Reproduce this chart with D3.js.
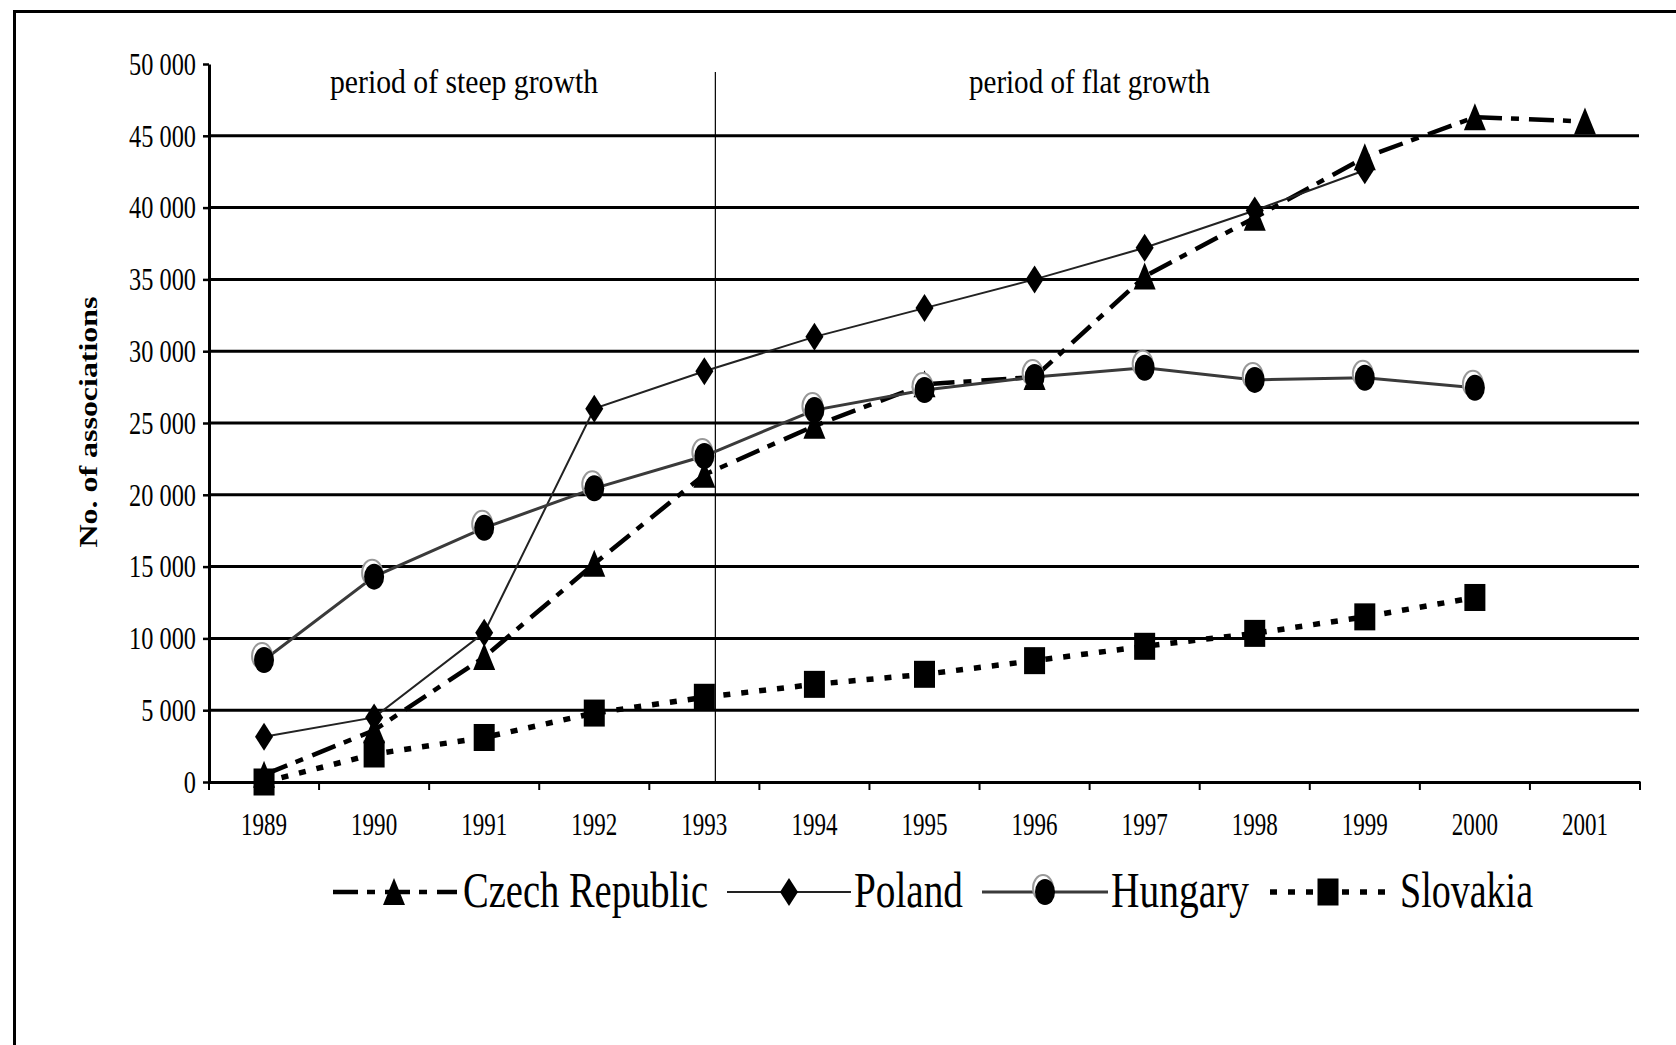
<!DOCTYPE html>
<html>
<head>
<meta charset="utf-8">
<script src="https://cdn.jsdelivr.net/npm/d3@7"></script>
<style>
  body { margin: 0; background: #fff; }
  text { font-family: "Liberation Serif", "Times New Roman", serif; fill: #000; }
</style>
</head>
<body>
<div id="wrapper"></div>
<script>
// data
const years = [1989, 1990, 1991, 1992, 1993, 1994, 1995, 1996, 1997, 1998, 1999, 2000, 2001];
const czech = [500, 3600, 8700, 15200, 21400, 24800, 27700, 28200, 35200, 39300, 43500, 46300, 46000];
const poland = [3150, 4500, 10400, 26000, 28600, 31000, 33000, 35000, 37200, 39800, 42600, null, null];
const hungary = [8500, 14300, 17700, 20450, 22700, 25900, 27300, 28200, 28850, 28000, 28150, 27450, null];
const slovakia = [0, 1950, 3100, 4800, 5900, 6800, 7500, 8450, 9450, 10350, 11500, 12850, null];
const yTicks = [0, 5000, 10000, 15000, 20000, 25000, 30000, 35000, 40000, 45000, 50000];
const seriesNames = ['Czech Republic', 'Poland', 'Hungary', 'Slovakia'];
const periodLabels = ['period of steep growth', 'period of flat growth'];
const yTitle = 'No. of associations';

const W = 1676, H = 1045;
const svg = d3.select('#wrapper')
    .append('svg')
    .attr('width', W)
    .attr('height', H);

// frame (only top and left edges show)
svg.append('line').attr('x1', 13).attr('x2', W).attr('y1', 11.5).attr('y2', 11.5)
    .attr('stroke', '#000').attr('stroke-width', 3);
svg.append('line').attr('x1', 14.5).attr('x2', 14.5).attr('y1', 10).attr('y2', H)
    .attr('stroke', '#000').attr('stroke-width', 3);

const x = d3.scaleBand().domain(years).range([209, 1640]);
const y = d3.scaleLinear().domain([0, 50000]).range([782, 64]);
const cx = d => x(d) + x.bandwidth() / 2;

const fmt = d3.formatLocale({decimal: '.', thousands: ' ', grouping: [3], currency: ['', '']}).format(',');

// squeeze text horizontally, like the stretched original
function squeeze(sel, k) {
    sel.each(function () {
        const len = this.getComputedTextLength();
        d3.select(this).attr('textLength', len * k).attr('lengthAdjust', 'spacingAndGlyphs');
    });
}

// gridlines
svg.append('g')
    .selectAll('line')
    .data(yTicks.filter(d => d > 0 && d < 50000))
    .enter()
    .append('line')
    .attr('x1', 209).attr('x2', 1639)
    .attr('y1', d => y(d)).attr('y2', d => y(d))
    .attr('stroke', '#000').attr('stroke-width', 3);

// y axis
const gy = svg.append('g')
    .attr('transform', 'translate(209,0)')
    .call(d3.axisLeft(y).tickValues(yTicks).tickFormat(fmt).tickSize(6).tickSizeOuter(0).tickPadding(7));
gy.select('.domain').attr('stroke-width', 3);
gy.selectAll('.tick line').attr('stroke-width', 2.5);
gy.selectAll('.tick text')
    .style('font-family', '"Liberation Serif", serif')
    .attr('font-size', 32)
    .call(squeeze, 0.76);

// x axis: labels at centres, ticks at band edges
const gx = svg.append('g')
    .attr('transform', 'translate(0,782)')
    .call(d3.axisBottom(x).tickSize(0).tickSizeOuter(0));
gx.select('.domain').attr('stroke-width', 3);
gx.selectAll('.tick text')
    .style('font-family', '"Liberation Serif", serif')
    .attr('font-size', 32)
    .attr('y', 53).attr('dy', 0)
    .call(squeeze, 0.72);
gx.selectAll('line.edge')
    .data(years.map(d => x(d)).concat([x.range()[1]]))
    .enter()
    .append('line')
    .attr('class', 'edge')
    .attr('x1', d => d).attr('x2', d => d)
    .attr('y1', 0).attr('y2', 8)
    .attr('stroke', '#000').attr('stroke-width', 2);

// period separator
const sepX = x(1993) + x.bandwidth() * 0.6;
svg.append('line')
    .attr('x1', sepX).attr('x2', sepX)
    .attr('y1', 72).attr('y2', 782)
    .attr('stroke', '#000').attr('stroke-width', 1.2);

svg.append('text').attr('x', 330).attr('y', 93).attr('font-size', 33)
    .attr('textLength', 268).attr('lengthAdjust', 'spacingAndGlyphs')
    .text(periodLabels[0]);
svg.append('text').attr('x', 969).attr('y', 93).attr('font-size', 33)
    .attr('textLength', 241).attr('lengthAdjust', 'spacingAndGlyphs')
    .text(periodLabels[1]);

// y title
svg.append('text')
    .attr('transform', 'translate(97,422) rotate(-90)')
    .attr('text-anchor', 'middle')
    .attr('font-size', 26)
    .attr('font-weight', 'bold')
    .attr('textLength', 251).attr('lengthAdjust', 'spacingAndGlyphs')
    .text(yTitle);

// series styles
const styles = [
    {values: czech, stroke: '#000', width: 4.5, dash: '25,9,8,10', marker: 'tri'},
    {values: poland, stroke: '#222', width: 2, dash: null, marker: 'dia'},
    {values: hungary, stroke: '#3a3a3a', width: 3, dash: null, marker: 'circ'},
    {values: slovakia, stroke: '#000', width: 5.5, dash: '7,11', marker: 'sq'}
];

function drawMarker(g, type, px, py) {
    if (type === 'tri') {
        g.append('path')
            .attr('d', `M${px},${py - 14} L${px + 11},${py + 13} L${px - 11},${py + 13} Z`)
            .attr('fill', '#000');
    } else if (type === 'dia') {
        g.append('path')
            .attr('d', `M${px},${py - 14} L${px + 9},${py} L${px},${py + 14} L${px - 9},${py} Z`)
            .attr('fill', '#000');
    } else if (type === 'circ') {
        g.append('ellipse')
            .attr('cx', px - 2).attr('cy', py - 4).attr('rx', 10).attr('ry', 13)
            .attr('fill', '#fff').attr('stroke', '#999').attr('stroke-width', 2);
        g.append('ellipse')
            .attr('cx', px).attr('cy', py).attr('rx', 10).attr('ry', 13)
            .attr('fill', '#000');
    } else {
        g.append('rect')
            .attr('x', px - 10.5).attr('y', py - 13.5)
            .attr('width', 21).attr('height', 27)
            .attr('fill', '#000');
    }
}

const line = d3.line()
    .defined(d => d.v != null)
    .x(d => cx(d.year))
    .y(d => y(d.v));

styles.forEach(function (s) {
    const pts = years.map((yr, i) => ({year: yr, v: s.values[i]}));
    const g = svg.append('g');
    g.append('path')
        .attr('d', line(pts))
        .attr('fill', 'none')
        .attr('stroke', s.stroke)
        .attr('stroke-width', s.width)
        .attr('stroke-dasharray', s.dash);
    pts.filter(d => d.v != null).forEach(function (d) {
        drawMarker(g, s.marker, cx(d.year), y(d.v));
    });
});

// legend
const legendItems = [
    {x1: 333, x2: 457, mx: 394, tx: 463, tl: 245},
    {x1: 727, x2: 851, mx: 789, tx: 854, tl: 109},
    {x1: 982, x2: 1108, mx: 1045, tx: 1111, tl: 138},
    {x1: 1270, x2: 1395, mx: 1328, tx: 1400, tl: 133}
];
const lg = svg.append('g');
legendItems.forEach(function (it, i) {
    const s = styles[i];
    lg.append('line')
        .attr('x1', it.x1).attr('x2', it.x2).attr('y1', 892).attr('y2', 892)
        .attr('stroke', s.stroke).attr('stroke-width', s.width)
        .attr('stroke-dasharray', s.dash);
    drawMarker(lg, s.marker, it.mx, 892);
    lg.append('text')
        .attr('x', it.tx).attr('y', 907)
        .attr('font-size', 50)
        .attr('textLength', it.tl).attr('lengthAdjust', 'spacingAndGlyphs')
        .text(seriesNames[i]);
});
</script>
</body>
</html>
